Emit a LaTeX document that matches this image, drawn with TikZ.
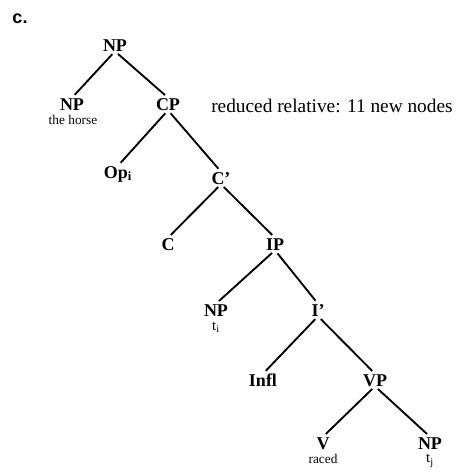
\documentclass[tikz,border=0pt]{standalone}
\usepackage{fontspec}
\setmainfont{Liberation Serif}
\newfontfamily\labelsans{Liberation Sans}
\begin{document}
\begin{tikzpicture}[x=0.75pt,y=-0.75pt,
  cat/.style={font=\fontsize{13.5}{13.5}\selectfont\bfseries, inner sep=0pt, text height=9pt, text depth=0pt},
  sub/.style={font=\fontsize{10}{10}\selectfont, inner sep=0pt},
  branch/.style={line width=1.4pt, shorten <=3pt, shorten >=3pt}]
\useasboundingbox (0,0) rectangle (456,476);
\node[font=\labelsans\fontsize{13.5}{13.5}\selectfont\bfseries, inner sep=0pt] (lab) at (20,19) {c.};
\node[cat] (np0) at (115,45) {NP};
\node[cat] (np1) at (72,104) {NP};
\node[sub] (horse) at (73,120) {the horse};
\node[cat] (cp) at (168,104) {CP};
\node[font=\fontsize{14.5}{14.5}\selectfont, anchor=west, inner sep=0pt] (rel) at (211,106) {reduced relative: 11 new nodes};
\node[cat] (op) at (118,172) {Op$_{\mathbf{i}}$};
\node[cat] (cbar) at (221,178) {C'};
\node[cat] (c) at (168,244) {C};
\node[cat] (ip) at (275,244) {IP};
\node[cat] (np2) at (216,310) {NP};
\node[sub, font=\fontsize{11}{11}\selectfont] (t1) at (216,327) {t$_{\mathrm{i}}$};
\node[cat] (ibar) at (318,310) {I'};
\node[cat] (infl) at (263,380) {Infl};
\node[cat] (vp) at (375,380) {VP};
\node[cat] (v) at (323,443) {V};
\node[sub] (raced) at (323,459) {raced};
\node[cat] (np3) at (430,443) {NP};
\node[sub, font=\fontsize{11}{11}\selectfont] (t2) at (430,461) {t$_{\mathrm{j}}$};
\draw[branch] (np0.south) -- (np1.north);
\draw[branch] (np0.south) -- (cp.north);
\draw[branch] (cp.south) -- (op.north);
\draw[branch] (cp.south) -- (cbar.north);
\draw[branch] (cbar.south) -- (c.north);
\draw[branch] (cbar.south) -- (ip.north);
\draw[branch] (ip.south) -- (np2.north);
\draw[branch] (ip.south) -- (ibar.north);
\draw[branch] (ibar.south) -- (infl.north);
\draw[branch] (ibar.south) -- (vp.north);
\draw[branch] (vp.south) -- (v.north);
\draw[branch] (vp.south) -- (np3.north);
\end{tikzpicture}
\end{document}
